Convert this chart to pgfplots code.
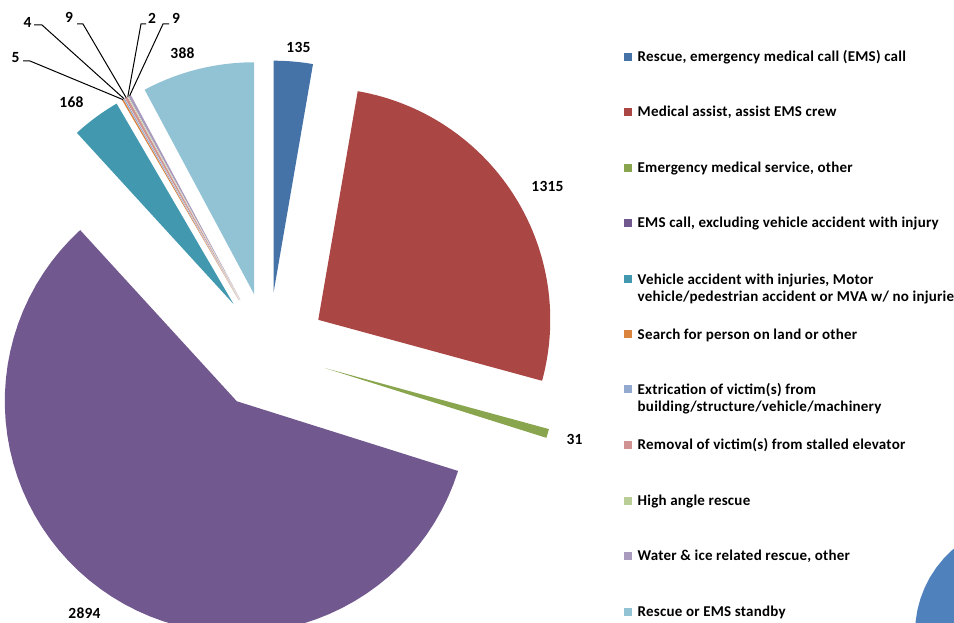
\documentclass[border=0pt]{standalone}
\usepackage{pgfplots}
\pgfplotsset{compat=1.18}
\usepackage{fontspec}
\setmainfont{Carlito}[LetterSpace=1.5]
\definecolor{c1}{HTML}{4572A7}
\definecolor{c2}{HTML}{AA4643}
\definecolor{c3}{HTML}{89A54E}
\definecolor{c4}{HTML}{71588F}
\definecolor{c5}{HTML}{4198AF}
\definecolor{c6}{HTML}{DB843D}
\definecolor{c7}{HTML}{93A9CF}
\definecolor{c8}{HTML}{D19392}
\definecolor{c9}{HTML}{B9CD96}
\definecolor{c10}{HTML}{A99BBD}
\definecolor{c11}{HTML}{92C3D4}
\definecolor{c12}{HTML}{4F81BD}
\newcount\kk
\newcommand\wedgeplot[6]{%
  \edef\mypts{(#1,#2)}%
  \kk=0
  \loop
    \pgfmathsetmacro\myang{(#4)+((#5)-(#4))/60*\the\kk}%
    \pgfmathsetmacro\mypx{(#1)+(#3)*cos(\myang)}%
    \pgfmathsetmacro\mypy{(#2)+(#3)*sin(\myang)}%
    \edef\mypts{\mypts (\mypx,\mypy)}%
    \advance\kk by 1
  \ifnum\kk<61 \repeat
  \edef\mytmp{\noexpand\addplot[fill=#6, draw=none, forget plot] coordinates {\mypts};}%
  \mytmp
}
\def\cx{268.5}\def\cy{271.5}\def\R{232}\def\D{59}
\pgfmathsetmacro\Tot{135+1315+31+2894+168+5+4+9+2+9+388}
\def\cum{0}
\newcommand\pieslice[2]{%
  \pgfmathsetmacro\aS{90-(\cum)/\Tot*360}%
  \pgfmathsetmacro\cumN{\cum+#1}%
  \pgfmathsetmacro\aE{90-(\cumN)/\Tot*360}%
  \pgfmathsetmacro\aM{((\aS)+(\aE))/2}%
  \pgfmathsetmacro\tx{\cx+\D*cos(\aM)}%
  \pgfmathsetmacro\ty{\cy+\D*sin(\aM)}%
  \wedgeplot{\tx}{\ty}{\R}{\aS}{\aE}{#2}%
  \global\let\cum\cumN
}
\def\lf{\bfseries\fontsize{15}{17}\selectfont}
\def\nf{\bfseries\fontsize{15.5}{17}\selectfont}
\newcommand\legentry[3]{%
  \fill[#2] (624,{623-#1-4}) rectangle (632,{623-#1+4});
  \node[anchor=base west, inner sep=0pt, font=\lf] at (637.5,{623-#1-4.8}) {#3};
}
\begin{document}
\begin{tikzpicture}
\begin{scope}
\clip (0,0) rectangle (954pt,623pt);
\begin{axis}[at={(0,0)}, anchor=south west, scale only axis,
  width=954pt, height=623pt, xmin=0, xmax=954, ymin=0, ymax=623,
  hide axis, clip=false]
\pieslice{135}{c1}
\pieslice{1315}{c2}
\pieslice{31}{c3}
\pieslice{2894}{c4}
\pieslice{168}{c5}
\pieslice{5}{c6}
\pieslice{4}{c7}
\pieslice{9}{c8}
\pieslice{2}{c9}
\pieslice{9}{c10}
\pieslice{388}{c11}
\wedgeplot{1026}{-10}{111}{0}{360}{c12}
% value labels
\node[font=\nf, inner sep=0pt] at (298.5,576) {135};
\node[font=\nf, inner sep=0pt] at (547.5,436.5) {1315};
\node[font=\nf, inner sep=0pt] at (574.5,183.5) {31};
\node[font=\nf, inner sep=0pt] at (84.5,10) {2894};
\node[font=\nf, inner sep=0pt] at (71.5,521) {168};
\node[font=\nf, inner sep=0pt] at (182.5,569.5) {388};
\node[font=\nf, inner sep=0pt] at (15.5,565) {5};
\node[font=\nf, inner sep=0pt] at (27.5,600.5) {4};
\node[font=\nf, inner sep=0pt] at (69,605.5) {9};
\node[font=\nf, inner sep=0pt] at (152,605) {2};
\node[font=\nf, inner sep=0pt] at (176,605) {9};
% leader lines
\draw[line width=1pt] (23,562)--(30,562)--(122.9,523.4);
\draw[line width=1pt] (34,598)--(42,598)--(124.1,524.2);
\draw[line width=1pt] (77,599)--(83,599)--(126.2,525.3);
\draw[line width=1pt] (146,599)--(141,599)--(127.8,526.2);
\draw[line width=1pt] (169,599)--(163,599)--(129.6,527.2);
% legend
\legentry{56.7}{c1}{Rescue, emergency medical call (EMS) call}
\legentry{111.7}{c2}{Medical assist, assist EMS crew}
\legentry{167.7}{c3}{Emergency medical service, other}
\legentry{223}{c4}{EMS call, excluding vehicle accident with injury}
\legentry{279.3}{c5}{Vehicle accident with injuries, Motor}
\node[anchor=base west, inner sep=0pt, font=\lf] at (637.5,{623-296.7-4.8}) {vehicle/pedestrian accident or MVA w/ no injuries};
\legentry{334.3}{c6}{Search for person on land or other}
\legentry{389.3}{c7}{Extrication of victim(s) from}
\node[anchor=base west, inner sep=0pt, font=\lf] at (637.5,{623-406.7-4.8}) {building/structure/vehicle/machinery};
\legentry{445}{c8}{Removal of victim(s) from stalled elevator}
\legentry{500.7}{c9}{High angle rescue}
\legentry{555.7}{c10}{Water \& ice related rescue, other}
\legentry{611.7}{c11}{Rescue or EMS standby}
\end{axis}
\end{scope}
\pgfresetboundingbox
\path[use as bounding box] (0,0) rectangle (954pt,623pt);
\end{tikzpicture}
\end{document}
